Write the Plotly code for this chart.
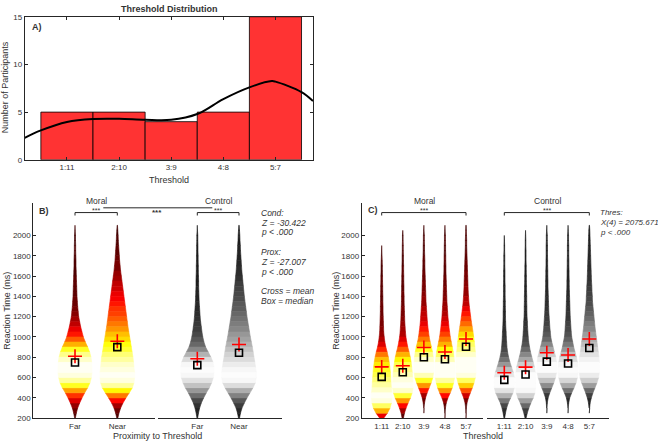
import numpy as np
import plotly.graph_objects as go
from plotly.colors import sample_colorscale

W, H = 658, 448
FONT = "Liberation Sans, Arial, sans-serif"
TXT = "#333333"
AX = "#262626"

# ---------------- data ----------------
THRESHOLDS = ["1:11", "2:10", "3:9", "4:8", "5:7"]
PARTICIPANTS = [5, 5, 4, 5, 15]
KDE_X = [0.19, 0.5, 1.0, 1.5, 2.0, 2.5, 3.0, 3.5, 4.0, 4.5, 4.93, 5.0, 5.5, 5.72]
KDE_Y = [2.3, 3.08, 3.97, 4.28, 4.3, 4.2, 4.2, 4.8, 6.37, 7.6, 8.25, 8.2, 7.1, 6.16]

PROXIMITY = ["Far", "Near"]
RT_LEVELS = list(range(200, 2101, 50))  # reaction time levels (ms)

# violin densities (relative units) at each RT level
B_MORAL_FAR = [2, 8, 16, 28, 42, 58, 76, 90, 98, 102, 102, 100, 96, 88, 76, 62, 50, 42, 34, 28,
               22, 19, 16, 14, 12, 11, 10, 9, 8, 7, 6, 6, 5, 4, 4, 3, 3, 1, 0]
B_MORAL_NEAR = [3, 10, 20, 34, 52, 72, 90, 100, 104, 104, 100, 97, 94, 89, 84, 79, 74, 69, 64, 60,
                56, 52, 48, 44, 40, 36, 32, 28, 24, 20, 17, 14, 12, 10, 8, 6, 5, 3, 1]
B_CONTROL_FAR = [2, 7, 14, 24, 38, 54, 72, 86, 96, 100, 100, 94, 82, 66, 50, 40, 33, 28, 24, 20,
                 17, 15, 13, 11, 10, 9, 8, 8, 7, 6, 6, 5, 5, 4, 4, 3, 3, 1, 0]
B_CONTROL_NEAR = [3, 9, 18, 32, 48, 66, 84, 98, 104, 104, 100, 95, 90, 85, 80, 74, 68, 63, 58, 53,
                  48, 44, 40, 36, 32, 29, 26, 23, 20, 17, 15, 13, 11, 9, 8, 6, 5, 3, 1]

C_MORAL = [
    [12, 34, 50, 58, 62, 61, 58, 56, 54, 52, 49, 45, 40, 33, 25, 19, 15, 12, 11, 10,
     9, 8, 8, 7, 7, 6, 6, 5, 5, 4, 4, 3, 2, 1, 0, 0, 0, 0, 0],
    [4, 10, 20, 32, 46, 56, 62, 61, 59, 57, 54, 50, 45, 38, 30, 24, 19, 16, 14, 12,
     11, 10, 9, 8, 8, 7, 7, 6, 6, 5, 5, 4, 4, 3, 3, 2, 2, 0, 0],
    [0, 0, 1, 4, 10, 20, 32, 44, 54, 58, 60, 58, 56, 52, 46, 38, 32, 28, 24, 21,
     19, 17, 15, 13, 12, 11, 10, 9, 8, 7, 6, 6, 5, 4, 4, 3, 3, 1, 0],
    [0, 1, 3, 8, 18, 32, 44, 52, 58, 60, 60, 58, 54, 50, 44, 38, 32, 28, 24, 21,
     18, 16, 14, 12, 11, 10, 9, 8, 7, 6, 6, 5, 5, 4, 4, 3, 3, 1, 0],
    [0, 1, 2, 6, 14, 26, 38, 48, 56, 60, 60, 60, 58, 56, 53, 50, 46, 42, 37, 32,
     28, 24, 20, 17, 15, 13, 12, 11, 10, 9, 8, 7, 6, 5, 4, 4, 3, 2, 1],
]
C_CONTROL = [
    [2, 7, 14, 24, 38, 52, 60, 62, 60, 54, 44, 34, 26, 20, 16, 14, 12, 11, 9, 8,
     7, 7, 6, 6, 5, 5, 5, 4, 4, 4, 3, 3, 3, 2, 2, 1, 0, 0, 0],
    [3, 10, 20, 32, 46, 56, 60, 60, 60, 58, 54, 46, 38, 30, 24, 19, 16, 14, 12, 11,
     9, 8, 8, 7, 7, 6, 6, 5, 5, 4, 4, 3, 3, 3, 2, 2, 1, 0, 0],
    [0, 0, 1, 3, 8, 18, 30, 42, 52, 58, 60, 58, 54, 46, 38, 30, 24, 21, 18, 16,
     14, 12, 11, 10, 9, 8, 7, 7, 6, 6, 5, 5, 4, 4, 4, 3, 3, 1, 0],
    [0, 0, 1, 4, 10, 22, 36, 48, 56, 60, 60, 56, 50, 42, 34, 28, 22, 19, 17, 15,
     13, 12, 11, 10, 9, 8, 7, 7, 6, 6, 5, 5, 4, 4, 4, 3, 3, 1, 0],
    [0, 0, 2, 5, 12, 22, 34, 46, 56, 60, 62, 60, 58, 54, 50, 46, 42, 38, 34, 31,
     28, 25, 22, 19, 18, 16, 15, 13, 12, 11, 10, 9, 8, 7, 6, 5, 4, 3, 1],
]

B_MEAN_MORAL = [810, 958]
B_MEDIAN_MORAL = [748, 900]
B_MEAN_CONTROL = [786, 926]
B_MEDIAN_CONTROL = [723, 844]
C_MEAN_MORAL = [705, 716, 896, 852, 980]
C_MEDIAN_MORAL = [607, 652, 800, 781, 903]
C_MEAN_CONTROL = [647, 703, 845, 822, 980]
C_MEDIAN_CONTROL = [577, 631, 757, 738, 892]

# ---------------- layout helpers ----------------
def px(x):
    return x / W


def py(y):
    return 1 - y / H


HOT = [[0, "rgb(0,0,0)"], [0.375, "rgb(255,0,0)"], [0.75, "rgb(255,255,0)"], [1, "rgb(255,255,255)"]]
GRAY = [[0, "rgb(0,0,0)"], [1, "rgb(255,255,255)"]]
NBINS = 48
CMIN = -0.1
GAMMA = 1.3

DOM = {
    "A": (24.7, 313.0),
    "BL": (33.3, 155.0),
    "BR": (157.7, 281.7),
    "CL": (361.7, 483.3),
    "CR": (486.7, 609.3),
}
XR = {
    "A": [0.19, 5.72],
    "BL": [0.014, 2.891],
    "BR": [0.05, 3.024],
    "CL": [0.051, 5.82],
    "CR": [0.172, 5.94],
}
YR_RT = [200, 2320]


def unit_px(key):
    a, b = DOM[key]
    r = XR[key]
    return (b - a) / (r[1] - r[0])


fig = go.Figure()


def add_violins(key, xa, ya, violins, cscale):
    """violins: list of (position, densities). Drawn as colour-banded trapezoids."""
    scale = 1.0 / (3.0 * unit_px(key))
    lv = RT_LEVELS
    bins = {}
    for pos, dens in violins:
        d = np.array(dens, dtype=float)
        w = d * scale / 2.0
        dmax = d.max()
        for i in range(len(lv) - 1):
            if d[i] == 0 and d[i + 1] == 0:
                continue
            c = ((d[i] + d[i + 1]) / 2.0 / dmax) ** GAMMA
            t = (c - CMIN) / (1 - CMIN)
            b = min(NBINS - 1, int(t * NBINS))
            xs, ys = bins.setdefault(b, ([], []))
            xs += [pos - w[i], pos + w[i], pos + w[i + 1], pos - w[i + 1], pos - w[i], None]
            ys += [lv[i], lv[i], lv[i + 1], lv[i + 1], lv[i], None]
    for b, (xs, ys) in sorted(bins.items()):
        col = sample_colorscale(cscale, [(b + 0.5) / NBINS])[0]
        fig.add_trace(go.Scatter(
            x=xs, y=ys, mode="lines", fill="toself", fillcolor=col,
            line=dict(color=col, width=0.6), xaxis=xa, yaxis=ya,
            showlegend=False, hoverinfo="skip"))


def add_stats(xa, ya, means, medians):
    xs = list(range(1, len(means) + 1))
    fig.add_trace(go.Scatter(
        x=xs, y=means, mode="markers", xaxis=xa, yaxis=ya, showlegend=False, hoverinfo="skip",
        marker=dict(symbol="cross-thin", size=10, color="#ff0000", line=dict(color="#ff0000", width=1.6))))
    fig.add_trace(go.Scatter(
        x=xs, y=medians, mode="markers", xaxis=xa, yaxis=ya, showlegend=False, hoverinfo="skip",
        marker=dict(symbol="square-open", size=7, color="#000000", line=dict(color="#000000", width=1.6))))


# ---------------- panel A ----------------
fig.add_trace(go.Bar(
    x=list(range(1, 6)), y=PARTICIPANTS, width=1.0, xaxis="x", yaxis="y",
    marker=dict(color="#ff3333", line=dict(color="#000000", width=0.8)),
    showlegend=False, hoverinfo="skip"))
fig.add_trace(go.Scatter(
    x=KDE_X, y=KDE_Y, mode="lines", line=dict(color="#000000", width=2, shape="spline"),
    xaxis="x", yaxis="y", showlegend=False, hoverinfo="skip"))

# ---------------- panel B ----------------
add_violins("BL", "x2", "y2", [(1, B_MORAL_FAR), (2, B_MORAL_NEAR)], HOT)
add_violins("BR", "x3", "y3", [(1, B_CONTROL_FAR), (2, B_CONTROL_NEAR)], GRAY)
add_stats("x2", "y2", B_MEAN_MORAL, B_MEDIAN_MORAL)
add_stats("x3", "y3", B_MEAN_CONTROL, B_MEDIAN_CONTROL)

# ---------------- panel C ----------------
add_violins("CL", "x4", "y4", [(i + 1, d) for i, d in enumerate(C_MORAL)], HOT)
add_violins("CR", "x5", "y5", [(i + 1, d) for i, d in enumerate(C_CONTROL)], GRAY)
add_stats("x4", "y4", C_MEAN_MORAL, C_MEDIAN_MORAL)
add_stats("x5", "y5", C_MEAN_CONTROL, C_MEDIAN_CONTROL)

# ---------------- axes ----------------
tickfont = dict(family=FONT, size=8, color=TXT)


def xdom(key):
    a, b = DOM[key]
    return [px(a), px(b)]


RT_DOMAIN = [py(422.7), py(203)]

layout = dict(
    width=W, height=H, autosize=False, margin=dict(l=0, r=0, t=0, b=0),
    paper_bgcolor="white", plot_bgcolor="rgba(0,0,0,0)", barmode="overlay",
    showlegend=False, font=dict(family=FONT, color=TXT),
    xaxis=dict(domain=xdom("A"), range=XR["A"], anchor="y", tickvals=[1, 2, 3, 4, 5], ticktext=THRESHOLDS,
               showline=True, linecolor=AX, linewidth=1, mirror="ticks", ticks="inside", ticklen=3,
               tickcolor=AX, showgrid=False, zeroline=False, tickfont=tickfont),
    yaxis=dict(domain=[py(159), py(13)], range=[0, 15], anchor="x", tickvals=[0, 5, 10, 15],
               showline=True, linecolor=AX, linewidth=1, mirror="ticks", ticks="inside", ticklen=3,
               tickcolor=AX, showgrid=False, zeroline=False, tickfont=tickfont),
)


def rt_x(key, anchor, ticktext):
    return dict(domain=xdom(key), range=XR[key], anchor=anchor, tickvals=list(range(1, len(ticktext) + 1)),
                ticktext=ticktext, showline=True, linecolor=AX, linewidth=1, ticks="", showgrid=False,
                zeroline=False, tickfont=tickfont)


def rt_y(anchor, visible):
    d = dict(domain=RT_DOMAIN, range=YR_RT, anchor=anchor, showgrid=False, zeroline=False)
    if visible:
        d.update(tickvals=list(range(200, 2001, 200)), showline=True, linecolor=AX, linewidth=1,
                 ticks="inside", ticklen=3, tickcolor=AX, tickfont=tickfont)
    else:
        d.update(visible=False)
    return d


layout["xaxis2"] = rt_x("BL", "y2", PROXIMITY)
layout["yaxis2"] = rt_y("x2", True)
layout["xaxis3"] = rt_x("BR", "y3", PROXIMITY)
layout["yaxis3"] = rt_y("x3", False)
layout["xaxis4"] = rt_x("CL", "y4", THRESHOLDS)
layout["yaxis4"] = rt_y("x4", True)
layout["xaxis5"] = rt_x("CR", "y5", THRESHOLDS)
layout["yaxis5"] = rt_y("x5", False)

# ---------------- annotations ----------------
ann = []


def text(x, y, s, size=8, xanchor="center", angle=0):
    ann.append(dict(xref="paper", yref="paper", x=px(x), y=py(y), text=s, showarrow=False,
                    xanchor=xanchor, yanchor="middle", textangle=angle,
                    font=dict(family=FONT, size=size, color=TXT)))


text(169, 5, "<b>Threshold Distribution</b>", 9)
text(30, 23, "<b>A)</b>", 9, "left")
text(5, 85, "Number of Participants", 9, angle=-90)
text(169, 180, "Threshold", 9)

text(37, 211, "<b>B)</b>", 9, "left")
text(7, 313, "Reaction Time (ms)", 9, angle=-90)
text(157.5, 441, "Proximity to Threshold", 9)
text(96.7, 201, "Moral", 8.5)
text(219, 201, "Control", 8.5)
text(157.3, 213, "<b>***</b>", 8)

text(366, 210, "<b>C)</b>", 9, "left")
text(336, 313, "Reaction Time (ms)", 9, angle=-90)
text(483, 441, "Threshold", 9)
text(424, 201, "Moral", 8.5)
text(547.7, 201, "Control", 8.5)

for y, s in [(213, "Cond:"), (223, "Z = -30.422"), (233, "p < .000"),
             (253, "Prox:"), (263, "Z = -27.007"), (273, "p < .000"),
             (293, "Cross = mean"), (303, "Box = median")]:
    text(258.5, y, "<i>" + s + "</i>", 8.5, "left")
for y, s in [(213, "Thres:"), (223, "X(4) = 2075.671"), (233, "p < .000")]:
    text(597.5, y, "<i>" + s + "</i>", 8, "left")

shapes = []
BR_Y, BR_Y2 = 2225, 2196


def bracket(xa, ya, x0, x1):
    shapes.append(dict(type="path", xref=xa, yref=ya,
                       path=f"M {x0},{BR_Y2} L {x0},{BR_Y} L {x1},{BR_Y} L {x1},{BR_Y2}",
                       line=dict(color=AX, width=1)))
    ann.append(dict(xref=xa, yref=ya, x=(x0 + x1) / 2, y=BR_Y + 25, text="***", showarrow=False,
                    yanchor="middle", font=dict(family=FONT, size=7, color=TXT)))


bracket("x2", "y2", 1, 2)
bracket("x3", "y3", 1, 2)
bracket("x4", "y4", 1, 5)
bracket("x5", "y5", 1, 5)
shapes.append(dict(type="line", xref="paper", yref="paper", x0=px(103.3), x1=px(212.3),
                   y0=py(208), y1=py(208), line=dict(color=AX, width=1)))

layout["annotations"] = ann
layout["shapes"] = shapes
fig.update_layout(**layout)

fig.write_html("out.html", config={"displayModeBar": False},
               post_script="document.body.style.margin='0';document.body.style.overflow='hidden';")
